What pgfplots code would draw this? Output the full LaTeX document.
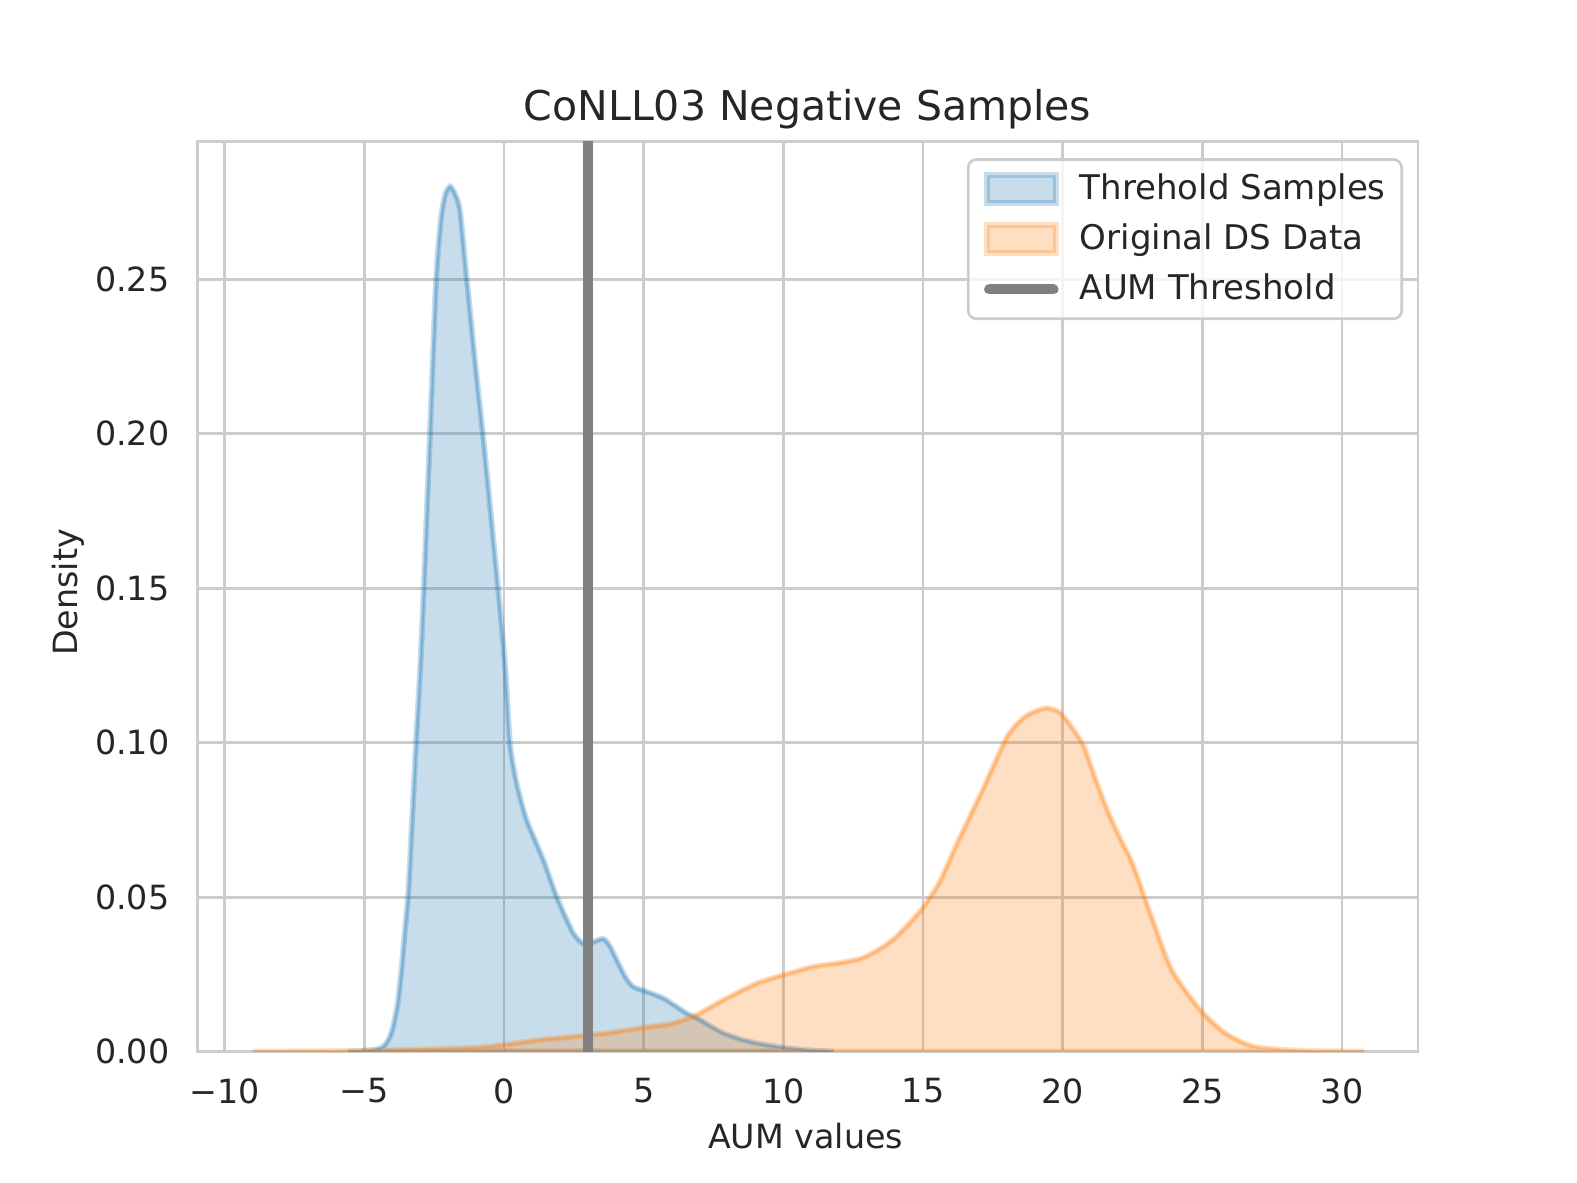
\documentclass[border=0pt]{standalone}
\usepackage{fontspec}
\setmainfont{DejaVu Sans}
\usepackage{pgfplots}
\usepackage{pgfplotstable}
\pgfplotsset{compat=1.18}

\definecolor{cblue}{HTML}{1F77B4}
\definecolor{corange}{HTML}{FF7F0E}
\definecolor{gridc}{HTML}{CCCCCC}
\definecolor{txt}{HTML}{262626}
\definecolor{thr}{HTML}{808080}

\pgfplotstableread{
x y
-5.6 0
-5.2 0.0001
-4.8 0.0004
-4.5 0.0009
-4.3 0.0018
-4.1 0.0045
-3.96 0.0085
-3.8 0.016
-3.66 0.0275
-3.55 0.039
-3.43 0.051
-3.3 0.073
-3.15 0.100
-3.0 0.124
-2.89 0.146
-2.77 0.173
-2.65 0.200
-2.43 0.250
-2.25 0.270
-2.10 0.2775
-1.93 0.2800
-1.75 0.2775
-1.58 0.2724
-1.34 0.2508
-0.98 0.2185
-0.74 0.1985
-0.45 0.172
-0.17 0.146
0.04 0.1246
0.21 0.100
0.45 0.0869
0.81 0.075
1.41 0.062
1.89 0.050
2.48 0.0383
2.9 0.0345
3.2 0.0355
3.56 0.0365
3.8 0.034
4.03 0.0297
4.35 0.024
4.63 0.021
5.11 0.0194
5.70 0.0173
6.1 0.015
6.54 0.0124
7.02 0.0103
7.4 0.0082
7.85 0.006
8.4 0.0042
9.05 0.0027
10.0 0.0013
11.0 0.0004
11.8 0
}\blue

\pgfplotstableread{
x y
-9.0 0
-7.0 0.0001
-5.0 0.0003
-3.0 0.0007
-1.0 0.0013
0.0 0.0022
1.29 0.0038
2.48 0.0049
3.68 0.0060
4.87 0.0076
6.06 0.0092
6.9 0.0119
7.85 0.0167
9.05 0.0221
10.0 0.0248
11.07 0.0275
12.0 0.0287
12.8 0.0302
13.5 0.0335
14.05 0.0372
14.94 0.0459
15.6 0.055
16.22 0.0674
17.1 0.084
18.01 0.1019
18.65 0.1084
19.36 0.1111
19.93 0.1095
20.70 0.0998
21.1 0.090
21.59 0.0782
22.0 0.070
22.49 0.061
23.13 0.0448
23.90 0.0264
24.92 0.0135
25.81 0.006
26.84 0.0016
28.5 0.0003
30.8 0
}\orange

\pgfplotsset{
  kdelegend/.style={legend image code/.code={%
    \path[draw=none, fill=none] (0pt,-5pt) rectangle (22.3pt,5pt);
    \draw[##1, sharp corners] (0.9pt,-4.2pt) rectangle (21.4pt,4.2pt);}},
  threshlegend/.style={legend image code/.code={%
    \path[draw=none, fill=none] (0pt,-5pt) rectangle (22.3pt,5pt);
    \draw[##1, sharp corners] (1.5pt,0pt) -- (20.8pt,0pt);}}
}

\begin{document}
\begin{tikzpicture}
\path[use as bounding box] (-59.19pt,-39.39pt) rectangle (413.91pt,315.51pt);
\begin{axis}[
  at={(0,0)}, anchor=south west,
  width=366.21pt, height=273.06pt, scale only axis,
  xmin=-10.98, xmax=32.72, ymin=0, ymax=0.2946,
  axis line style={gridc, line width=0.8pt},
  grid=major, major grid style={gridc, line width=0.8pt},
  major tick length=0pt, tick style={draw=none},
  xtick={-10,-5,0,5,10,15,20,25,30},
  xticklabels={−10,−5,0,5,10,15,20,25,30},
  ytick={0,0.05,0.10,0.15,0.20,0.25},
  yticklabels={0.00,0.05,0.10,0.15,0.20,0.25},
  ticklabel style={font=\fontsize{10}{12}\selectfont, text=txt},
  xticklabel style={anchor=north, inner sep=0pt, yshift=-7.9pt},
  yticklabel style={anchor=east, inner sep=0pt, xshift=-8.2pt},
  legend cell align=left,
  legend style={at={(1,1)}, anchor=north east, xshift=-4.5pt, yshift=-5pt,
    draw=gridc, line width=0.8pt, rounded corners=2.5pt,
    fill=white, fill opacity=0.8, text opacity=1, text=txt,
    font=\fontsize{10.2}{12}\selectfont,
    inner xsep=4.8pt, inner ysep=3.8pt, row sep=4.9pt, column sep=6.4pt,
    nodes={inner sep=0pt}},
]
\addplot[kdelegend, draw=cblue, fill=cblue, fill opacity=0.25, draw opacity=0.25, line width=1.8pt, smooth, tension=0.4] table {\blue} \closedcycle;
\addlegendentry{Threhold Samples}
\addplot[kdelegend, draw=corange, fill=corange, fill opacity=0.25, draw opacity=0.25, line width=1.8pt, smooth, tension=0.4] table {\orange} \closedcycle;
\addlegendentry{Original DS Data}
\addplot[threshlegend, draw=thr, line width=3pt, line cap=round] coordinates {(3,0) (3,0.2946)};
\addlegendentry{AUM Threshold}
\addplot[forget plot, draw=cblue, draw opacity=0.3, line width=0.8pt, smooth, tension=0.4] table {\blue};
\addplot[forget plot, draw=corange, draw opacity=0.3, line width=0.8pt, smooth, tension=0.4] table {\orange};
\addplot[forget plot, draw=thr, line width=3pt] coordinates {(3,0) (3,0.2946)};
\end{axis}
\node[anchor=base, text=txt, font=\fontsize{12.3}{14}\selectfont] at (183.1pt,279.4pt) {CoNLL03 Negative Samples};
\node[anchor=base, text=txt, font=\fontsize{10}{12}\selectfont, inner sep=0pt] at (182.5pt,-28.9pt) {AUM values};
\node[anchor=base, rotate=90, text=txt, font=\fontsize{10}{12}\selectfont, inner sep=0pt] at (-35.8pt,137.8pt) {Density};
\end{tikzpicture}
\end{document}
